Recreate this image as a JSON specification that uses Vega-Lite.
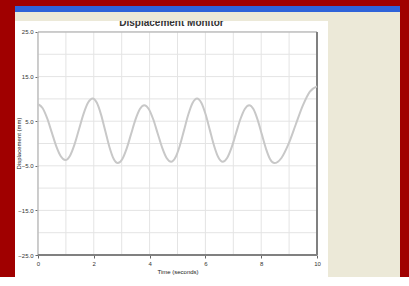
{
  "$schema": "https://vega.github.io/schema/vega-lite/v6.json",
  "background": "#a00000",
  "padding": {"left": 15, "top": 6, "right": 9, "bottom": 0},
  "config": {"view": {"stroke": null}, "font": "Liberation Sans"},
  "datasets": {
    "wave": [
      {"t": 0, "v": 8.8}, {"t": 0.163, "v": 7.96}, {"t": 0.327, "v": 5.68}, {"t": 0.49, "v": 2.55}, {"t": 0.653, "v": -0.58}, {"t": 0.817, "v": -2.86},
      {"t": 0.98, "v": -3.7}, {"t": 1.143, "v": -2.78}, {"t": 1.307, "v": -0.25}, {"t": 1.47, "v": 3.2}, {"t": 1.633, "v": 6.65}, {"t": 1.797, "v": 9.18},
      {"t": 1.96, "v": 10.1}, {"t": 2.11, "v": 9.13}, {"t": 2.26, "v": 6.48}, {"t": 2.41, "v": 2.85}, {"t": 2.56, "v": -0.78}, {"t": 2.71, "v": -3.43},
      {"t": 2.86, "v": -4.4}, {"t": 3.018, "v": -3.53}, {"t": 3.177, "v": -1.15}, {"t": 3.335, "v": 2.1}, {"t": 3.493, "v": 5.35}, {"t": 3.652, "v": 7.73},
      {"t": 3.81, "v": 8.6}, {"t": 3.97, "v": 7.75}, {"t": 4.13, "v": 5.43}, {"t": 4.29, "v": 2.25}, {"t": 4.45, "v": -0.93}, {"t": 4.61, "v": -3.25},
      {"t": 4.77, "v": -4.1}, {"t": 4.925, "v": -3.15}, {"t": 5.08, "v": -0.55}, {"t": 5.235, "v": 3.0}, {"t": 5.39, "v": 6.55}, {"t": 5.545, "v": 9.15},
      {"t": 5.7, "v": 10.1}, {"t": 5.853, "v": 9.15}, {"t": 6.007, "v": 6.55}, {"t": 6.16, "v": 3.0}, {"t": 6.313, "v": -0.55}, {"t": 6.467, "v": -3.15},
      {"t": 6.62, "v": -4.1}, {"t": 6.778, "v": -3.25}, {"t": 6.937, "v": -0.93}, {"t": 7.095, "v": 2.25}, {"t": 7.253, "v": 5.43}, {"t": 7.412, "v": 7.75},
      {"t": 7.57, "v": 8.6}, {"t": 7.72, "v": 7.73}, {"t": 7.87, "v": 5.35}, {"t": 8.02, "v": 2.1}, {"t": 8.17, "v": -1.15}, {"t": 8.32, "v": -3.53},
      {"t": 8.47, "v": -4.4}, {"t": 8.725, "v": -3.25}, {"t": 8.98, "v": -0.1}, {"t": 9.235, "v": 4.2}, {"t": 9.49, "v": 8.5}, {"t": 9.745, "v": 11.65},
      {"t": 10.0, "v": 12.8}
    ],
    "xt": [{"t": 0}, {"t": 1}, {"t": 2}, {"t": 3}, {"t": 4}, {"t": 5}, {"t": 6}, {"t": 7}, {"t": 8}, {"t": 9}, {"t": 10}],
    "yt": [{"v": -25}, {"v": -20}, {"v": -15}, {"v": -10}, {"v": -5}, {"v": 0}, {"v": 5}, {"v": 10}, {"v": 15}, {"v": 20}, {"v": 25}]
  },
  "vconcat": [
    {
      "width": 385, "height": 6,
      "view": {"fill": "#2f63d9", "stroke": null},
      "data": {"values": [{}]},
      "mark": {"type": "text", "fontSize": 1},
      "encoding": {"text": {"value": " "}}
    },
    {
      "hconcat": [
        {
          "width": 313, "height": 265,
          "view": {"fill": "white", "stroke": null},
          "layer": [
            {
              "data": {"name": "xt"},
              "mark": {"type": "rule", "color": "#e4e4e4", "strokeWidth": 1},
              "encoding": {
                "x": {"field": "t", "type": "quantitative", "title": "Time (seconds)",
                  "scale": {"domain": [-0.824, 10.394], "nice": false, "zero": false}},
                "y": {"datum": -25, "type": "quantitative"},
                "y2": {"datum": 25}
              }
            },
            {
              "data": {"name": "yt"},
              "mark": {"type": "rule", "color": "#e4e4e4", "strokeWidth": 1},
              "encoding": {
                "y": {"field": "v", "type": "quantitative", "title": "Displacement (mm)",
                  "scale": {"domain": [-29.93, 29.48], "nice": false, "zero": false}},
                "x": {"datum": 0, "type": "quantitative"},
                "x2": {"datum": 10}
              }
            },
            {
              "data": {"values": [{}]},
              "mark": {"type": "rect", "fill": null, "stroke": "#a8a8a8", "strokeWidth": 1},
              "encoding": {
                "x": {"datum": 0, "type": "quantitative"}, "x2": {"datum": 10},
                "y": {"datum": -25, "type": "quantitative"}, "y2": {"datum": 25}
              }
            },
            {
              "data": {"values": [{}]},
              "mark": {"type": "rule", "color": "#808080", "strokeWidth": 2},
              "encoding": {
                "x": {"datum": 10, "type": "quantitative"},
                "y": {"datum": -25, "type": "quantitative"}, "y2": {"datum": 25}
              }
            },
            {
              "data": {"values": [{}]},
              "mark": {"type": "rule", "color": "#808080", "strokeWidth": 2},
              "encoding": {
                "y": {"datum": -25, "type": "quantitative"},
                "x": {"datum": 0, "type": "quantitative"}, "x2": {"datum": 10}
              }
            },
            {
              "data": {"values": [{"title": "Displacement Monitor"}]},
              "mark": {"type": "text", "fontSize": 10, "fontWeight": "bold", "color": "#333333", "align": "center", "baseline": "middle"},
              "encoding": {
                "text": {"field": "title"},
                "x": {"datum": 4.785, "type": "quantitative"},
                "y": {"datum": 27.0, "type": "quantitative"}
              }
            },
            {
              "data": {"name": "wave"},
              "mark": {"type": "line", "color": "#c8c8c8", "strokeWidth": 2, "interpolate": "monotone"},
              "encoding": {
                "x": {"field": "t", "type": "quantitative", "title": "Time (seconds)",
                  "scale": {"domain": [-0.824, 10.394], "nice": false, "zero": false},
                  "axis": {"values": [0, 1, 2, 3, 4, 5, 6, 7, 8, 9, 10], "format": "d", "offset": -22,
                    "domain": false, "grid": false, "tickSize": 3, "tickColor": "#666666",
                    "labelFontSize": 6, "labelColor": "#333333", "labelPadding": 2, "labelFlush": false, "labelOverlap": false,
                    "titleFontSize": 6, "titleFontWeight": "normal", "titleColor": "#222222", "titlePadding": 2, "titleX": 162.5}},
                "y": {"field": "v", "type": "quantitative", "title": "Displacement (mm)",
                  "scale": {"domain": [-29.93, 29.48], "nice": false, "zero": false},
                  "axis": {"values": [-25, -20, -15, -10, -5, 0, 5, 10, 15, 20, 25],
                    "labelExpr": "datum.value == 0 ? '0' : format(datum.value, '.1f')",
                    "offset": -23, "domain": false, "grid": false, "tickSize": 3, "tickColor": "#666666",
                    "labelFontSize": 6, "labelColor": "#333333", "labelPadding": 2, "labelFlush": false, "labelOverlap": false,
                    "titleFontSize": 6, "titleFontWeight": "normal", "titleColor": "#222222",
                    "titleX": -19.5, "titleY": 131, "titleAngle": -90, "titleAlign": "center", "titleBaseline": "middle"}}
              }
            }
          ]
        },
        {
          "width": 72, "height": 265,
          "view": {"fill": "#ece9d8", "stroke": null},
          "data": {"values": [{}]},
          "mark": {"type": "text", "fontSize": 1},
          "encoding": {"text": {"value": " "}}
        }
      ],
      "spacing": 0,
      "bounds": "flush"
    },
    {
      "width": 385, "height": 9,
      "view": {"fill": "#ece9d8", "stroke": null},
      "data": {"values": [{}]},
      "mark": {"type": "text", "fontSize": 1},
      "encoding": {"text": {"value": " "}}
    }
  ],
  "spacing": 0,
  "bounds": "flush"
}
